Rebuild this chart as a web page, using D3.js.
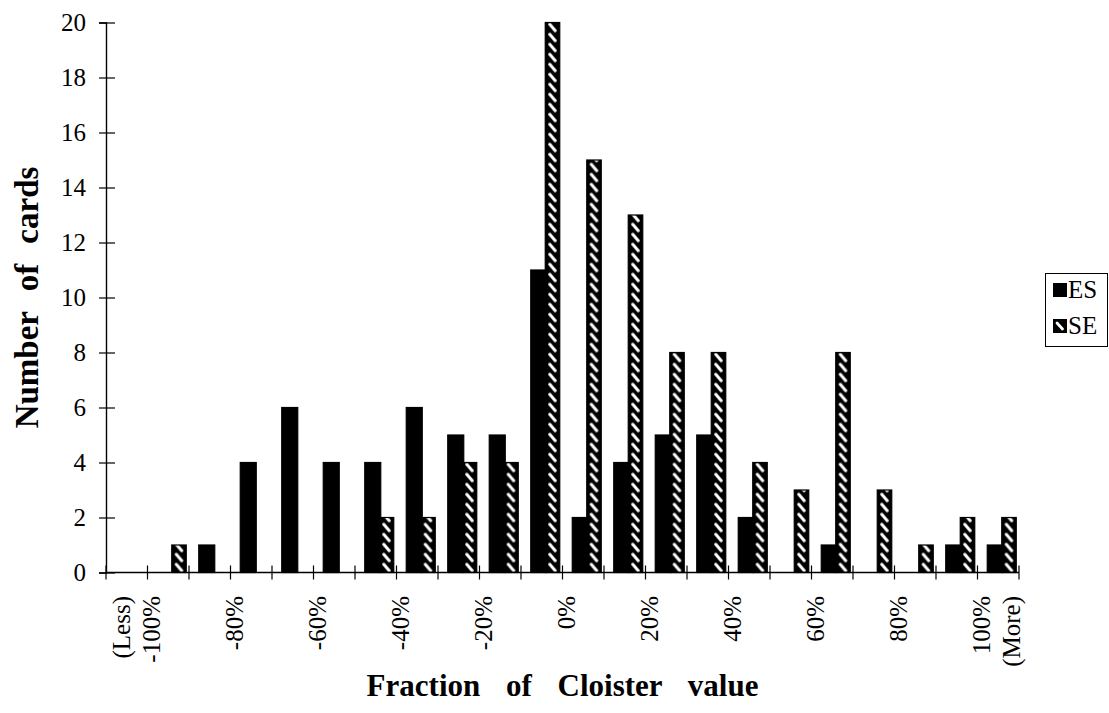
<!DOCTYPE html>
<html>
<head>
<meta charset="utf-8">
<script src="https://cdn.jsdelivr.net/npm/d3@7"></script>
<style>
  html, body { margin: 0; padding: 0; background: #fff; }
  svg { display: block; }
  text { font-family: "Liberation Serif", "Times New Roman", serif; fill: #000; }
</style>
</head>
<body>
<svg id="chart" width="1109" height="713"></svg>
<script>
// Histogram bins, named by their lower edge; the first collects everything below -100%,
// the last everything from 100% up.
const bins = ["(Less)", "-100%", "-90%", "-80%", "-70%", "-60%", "-50%", "-40%", "-30%", "-20%", "-10%",
              "0%", "10%", "20%", "30%", "40%", "50%", "60%", "70%", "80%", "90%", "100%"];
const series = ["ES", "SE"];
const esCounts = [0, 0, 1, 4, 6, 4, 4, 6, 5, 5, 11, 2, 4, 5, 5, 2, 0, 1, 0, 0, 1, 1];
const seCounts = [0, 1, 0, 0, 0, 0, 2, 2, 4, 4, 20, 15, 13, 8, 8, 4, 3, 8, 3, 1, 2, 2];
const yTicks = [0, 2, 4, 6, 8, 10, 12, 14, 16, 18, 20];
// Edge labels sit on the boundary at the start of the bin with the same name.
const edgeLabels = ["-100%", "-80%", "-60%", "-40%", "-20%", "0%", "20%", "40%", "60%", "80%", "100%"];
const edgeNotesBefore = { "-100%": "(Less)" };
const edgeNotesAfter = { "100%": "(More)" };

const svg = d3.select("#chart");
const plotLeft = 106, plotRight = 1019, plotTop = 22.5, plotBottom = 572.5;

const x = d3.scaleBand().domain(bins).range([plotLeft, plotRight]).paddingInner(0).paddingOuter(0);
const bw = x.bandwidth();
const xs = d3.scaleBand().domain(series).range([bw / 2 - 11, bw / 2 + 18]);
const y = d3.scaleLinear().domain([0, 20]).range([plotBottom, plotTop]);

// Fill for the SE bars: black with short white backslash strokes.
const defs = svg.append("defs");
const pat = defs.append("pattern")
  .attr("id", "seHatch")
  .attr("patternUnits", "userSpaceOnUse")
  .attr("width", 14.5).attr("height", 10);
pat.append("rect").attr("width", 14.5).attr("height", 10).attr("fill", "#000");
pat.append("line")
  .attr("x1", 4.5).attr("y1", 1.8).attr("x2", 10).attr("y2", 8.2)
  .attr("stroke", "#fff").attr("stroke-width", 3).attr("stroke-linecap", "round");

const legPat = defs.append("pattern")
  .attr("id", "seHatchLegend")
  .attr("patternUnits", "userSpaceOnUse")
  .attr("width", 14).attr("height", 14);
legPat.append("rect").attr("width", 14).attr("height", 14).attr("fill", "#000");
legPat.append("line")
  .attr("x1", 4).attr("y1", 4).attr("x2", 9.5).attr("y2", 10)
  .attr("stroke", "#fff").attr("stroke-width", 2.8).attr("stroke-linecap", "round");

// Bars
const rows = bins.map((b, i) => ({ bin: b, ES: esCounts[i], SE: seCounts[i] }));
const gBars = svg.append("g");
rows.forEach(r => {
  series.forEach(s => {
    const v = r[s];
    if (!v) return;
    const bx = x(r.bin) + xs(s);
    const w = s === "ES" ? xs.bandwidth() + 1.5 : xs.bandwidth();
    const g = gBars.append("g").attr("transform", `translate(${bx},${y(0)})`);
    g.append("rect")
      .attr("x", 0)
      .attr("y", y(v) - y(0))
      .attr("width", w)
      .attr("height", y(0) - y(v))
      .attr("fill", s === "ES" ? "#000" : "url(#seHatch)")
      .attr("stroke", "#000")
      .attr("stroke-width", 1.2);
  });
});

// Y axis with ticks crossing the line
const yAxis = svg.append("g")
  .attr("transform", `translate(${plotLeft},0)`)
  .call(d3.axisLeft(y).tickValues(yTicks).tickSize(7).tickPadding(14).tickFormat(d3.format("d")));
yAxis.select(".domain").attr("stroke", "#000").attr("stroke-width", 1.4);
yAxis.selectAll(".tick line").attr("x1", -7).attr("x2", 9).attr("stroke", "#000").attr("stroke-width", 1.2);
yAxis.selectAll(".tick text")
  .attr("x", -20)
  .style("font-family", "'Liberation Serif', serif")
  .style("font-size", "25px");

// X axis: ticks at every bin boundary
const edgeX = bins.map(b => x(b)).concat([plotRight]);
const xAxisG = svg.append("g");
xAxisG.append("line")
  .attr("x1", plotLeft).attr("x2", plotRight)
  .attr("y1", y(0)).attr("y2", y(0))
  .attr("stroke", "#000").attr("stroke-width", 1.4);
xAxisG.selectAll("line.tk").data(edgeX).join("line")
  .attr("class", "tk")
  .attr("x1", d => d).attr("x2", d => d)
  .attr("y1", y(0) - 7).attr("y2", y(0) + 7)
  .attr("stroke", "#000").attr("stroke-width", 1.2);

const labelTop = 596;
const lab = xAxisG.selectAll("g.lab").data(edgeLabels).join("g").attr("class", "lab");
lab.append("text")
  .attr("transform", d => `translate(${x(d) + 4},${labelTop}) rotate(-90)`)
  .attr("text-anchor", "end")
  .attr("dominant-baseline", "central")
  .style("font-size", "25px")
  .text(d => d);
lab.filter(d => edgeNotesBefore[d]).append("text")
  .attr("transform", d => `translate(${x(d) - 26},${labelTop}) rotate(-90)`)
  .attr("text-anchor", "end")
  .attr("dominant-baseline", "central")
  .style("font-size", "25px")
  .text(d => edgeNotesBefore[d]);
lab.filter(d => edgeNotesAfter[d]).append("text")
  .attr("transform", d => `translate(${x(d) + 34},${labelTop}) rotate(-90)`)
  .attr("text-anchor", "end")
  .attr("dominant-baseline", "central")
  .style("font-size", "25px")
  .text(d => edgeNotesAfter[d]);

// Axis titles
svg.append("text")
  .attr("x", (plotLeft + plotRight) / 2)
  .attr("y", 696)
  .attr("text-anchor", "middle")
  .attr("word-spacing", "18px")
  .style("font-size", "31px")
  .style("font-weight", "bold")
  .text("Fraction of Cloister value");

svg.append("text")
  .attr("transform", `translate(38,${(plotTop + plotBottom) / 2}) rotate(-90)`)
  .attr("text-anchor", "middle")
  .attr("word-spacing", "12px")
  .style("font-size", "33px")
  .style("font-weight", "bold")
  .text("Number of cards");

// Legend
const leg = svg.append("g");
leg.append("rect")
  .attr("x", 1045.5).attr("y", 273.5)
  .attr("width", 62).attr("height", 73)
  .attr("fill", "#fff").attr("stroke", "#000").attr("stroke-width", 1);
series.forEach((s, i) => {
  const gy = 283 + i * 36;
  leg.append("g").attr("transform", `translate(1053,${gy})`)
    .append("rect")
    .attr("width", 14).attr("height", 14)
    .attr("fill", s === "ES" ? "#000" : "url(#seHatchLegend)");
  leg.append("text")
    .attr("x", 1068).attr("y", gy + 15)
    .style("font-size", "25px")
    .text(s);
});
</script>
</body>
</html>
